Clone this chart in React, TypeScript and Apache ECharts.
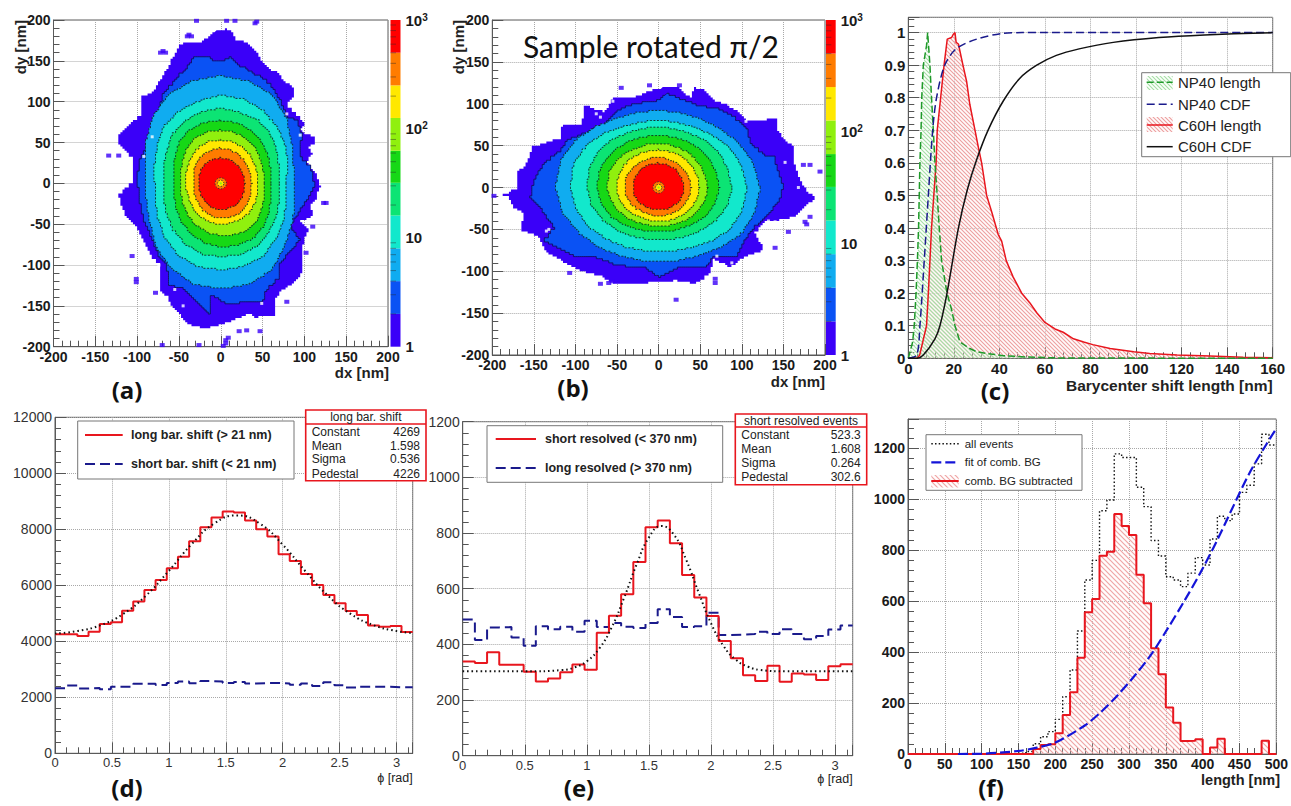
import React, { useEffect, useRef } from "react";
import * as echarts from "echarts";

// ---------- colour scale of the 2D maps (outer to inner) ----------
const levelEdges = [1, 2, 4, 8, 16, 32, 63, 126, 251, 501, 1000];
const levelFills = ["#3a00f8", "#0a52f4", "#10acf0", "#12e8cc", "#0ce474", "#16d816", "#90f00e", "#ffe800", "#ff7c00", "#ff0000"];
const barMinorTicks = [2, 3, 4, 5, 6, 7, 8, 9, 20, 30, 40, 50, 60, 70, 80, 90, 200, 300, 400, 500, 600, 700, 800, 900];

// ---------- panel (a): contours, nm ----------
const aOuter = [[-5,187],[5,189],[13,187],[17,175],[25,176],[33,169],[45,159],[47,150],[51,147],[59,138],[68,136],[75,126],[87,116],[87,106],[81,97],[81,93],[91,83],[101,71],[95,66],[101,61],[111,57],[112,48],[105,44],[109,36],[103,25],[113,12],[119,-4],[113,-21],[107,-27],[111,-41],[95,-47],[105,-58],[100,-70],[97,-80],[97,-111],[87,-123],[75,-130],[65,-143],[65,-162],[43,-164],[35,-160],[15,-168],[5,-172],[-17,-178],[-33,-174],[-43,-168],[-50,-158],[-59,-149],[-63,-138],[-73,-131],[-73,-98],[-82,-90],[-92,-70],[-100,-53],[-112,-42],[-118,-29],[-122,-13],[-104,4],[-106,32],[-124,51],[-122,61],[-108,73],[-96,85],[-96,106],[-82,112],[-76,122],[-70,130],[-61,147],[-49,171],[-25,173]];
const aBlue = [[0,149],[11,155],[17,147],[33,138],[51,128],[61,118],[71,102],[79,81],[91,77],[97,61],[95,32],[107,20],[113,-4],[103,-21],[93,-37],[83,-53],[95,-70],[81,-86],[69,-102],[71,-115],[55,-131],[51,-145],[7,-147],[-5,-139],[-13,-137],[-13,-160],[-29,-143],[-47,-127],[-61,-125],[-65,-98],[-73,-90],[-84,-62],[-92,-45],[-96,-25],[-100,8],[-96,32],[-86,53],[-76,81],[-69,110],[-49,134],[-43,138],[-33,155],[-17,155],[-9,151]];
const aLightBlue = [88,90,98,112,125,130,132,130,125,115,103,93,90,92,98,110,120,128,129,128,122,108,98,92];
const aTeal = [78,83,90,97,103,107,108,104,101,97,88,82,79,81,87,95,102,106,106,105,102,94,87,81];
const aGreenTeal = [70,72,78,85,90,90,92,90,87,83,75,71,69,71,75,81,86,90,90,90,88,82,77,73];
const aGreen = [60,62,66,71,75,77,77,77,75,70,63,59,57,58,62,67,72,76,78,78,77,73,67,62];
const aLime = [52,53,56,60,63,65,65,65,63,58,53,50,49,50,52,56,60,63,64,65,65,62,57,54];
const aYellow = [44,45,47,50,52,53,53,53,51,48,45,43,42,42,43,46,48,50,50,50,50,49,47,45];
const aOrange = [37,37,38,40,42,43,43,42,41,39,36,34,33,34,35,37,40,42,43,43,43,41,39,38];
const aRed = [29,29,29.5,30,31,31,31,31,30,29,28,27,27,27,28,29,31,32,32,32,32,31,30,29];
const aSpecks = [[-134,34],[-122,34],[-69,162],[-66,160],[-72,160],[-38,182],[-35,180],[-40,180],[-29,199],[7,199],[17,199],[43,198],[41,196],[123,-24],[126,-24],[110,-53],[102,-85],[-106,-89],[-101,-117],[-101,-121],[-78,-134],[79,-145],[22,-181],[31,-180],[47,-181],[6,-192],[6,-196],[3,-199],[-70,-198],[-26,-198],[9,-189]];
const aHoles = [[79,85],[95,59],[49,-147],[-74,-100],[-82,57],[-92,33],[-55,-130],[-45,-150]];

// ---------- panel (b): contours, nm ----------
const bOuter = [[6,119],[24,119],[38,106],[42,119],[52,118],[66,104],[82,98],[96,90],[106,80],[144,82],[142,70],[150,57],[162,49],[162,29],[170,9],[178,-5],[190,-13],[176,-23],[164,-35],[144,-39],[130,-39],[116,-55],[126,-75],[104,-83],[88,-95],[66,-85],[62,-103],[46,-115],[22,-111],[2,-113],[-34,-115],[-52,-115],[-70,-105],[-94,-99],[-116,-87],[-134,-77],[-146,-57],[-166,-51],[-162,-31],[-174,-23],[-180,-11],[-190,-9],[-170,-1],[-171,19],[-160,27],[-152,49],[-118,59],[-116,74],[-92,76],[-90,98],[-66,90],[-54,108],[-30,108],[-10,116]];
const bBlue = [[10,112],[30,104],[46,98],[70,94],[88,86],[106,70],[110,53],[126,39],[140,37],[142,21],[150,1],[146,-15],[134,-31],[116,-47],[104,-63],[94,-83],[66,-83],[58,-95],[26,-95],[2,-107],[-18,-95],[-50,-93],[-74,-83],[-98,-83],[-114,-75],[-138,-63],[-126,-47],[-142,-23],[-154,-11],[-150,9],[-138,29],[-118,45],[-110,57],[-92,64],[-66,76],[-50,92],[-30,100],[-2,104]];
const bLightBlue = [122,118,110,102,96,93,92,93,96,104,114,122,124,120,110,102,94,90,89,90,94,102,113,119];
const bTeal = [106,103,98,90,84,81,80,81,84,92,100,106,106,103,97,88,82,78,77,78,82,90,99,104];
const bGreenTeal = [88,86,84,80,75,73,72,73,75,80,84,86,86,84,78,72,67,64,63,64,67,72,79,85];
const bGreen = [73,72,70,68,65,63,62,63,65,68,71,74,74,72,68,62,57,54,53,54,56,60,66,70];
const bLime = [59,58,57,56,54,53,52,53,54,57,60,62,62,60,57,53,49,47,47,47,49,52,55,57];
const bYellow = [49,49,48,47,46,45,45,45,46,48,49,50,50,50,48,45,42,41,41,41,42,44,46,48];
const bOrange = [39,39,38,37,36,36,36,36,36,38,39,41,41,41,39,37,35,34,34,34,35,36,37,38];
const bRed = [30,30,30,30,29,29,29,29,29,30,30,31,31,31,30,29,28,27,27,27,28,28,29,30];
const bSpecks = [[-45,119],[-11,122],[25,122],[182,27],[194,19],[174,27],[176,-41],[182,-35],[178,-44],[156,-53],[140,-72],[21,-134],[-107,-102],[-70,-115],[-56,-112],[-60,-114],[-198,-10],[68,-109],[68,-114]];
const bHoles = [[-75,88],[-70,84],[-55,103],[105,79],[152,30],[168,0],[-135,-52],[-132,-50],[70,-82],[88,-90],[132,-40],[140,-41]];
const centerRing = [7, 7, 7, 7, 7, 7, 7, 7, 7, 7, 7, 7];
const centerYellow = [4, 4, 4, 4, 4, 4, 4, 4];
const centerCore = [1.5, 1.5, 1.5, 1.5, 1.5, 1.5];

// ---------- panel (c) ----------
const c60hLength = [[0,0],[4,0],[5,0.01],[6,0.04],[7,0.07],[8,0.1],[8.8,0.2],[10.2,0.4],[12.2,0.6],[12.7,0.7],[14.2,0.8],[15.7,0.9],[17.1,0.98],[19,0.985],[19.8,0.995],[20.5,1],[21,0.97],[22,0.965],[24,0.9],[25.6,0.85],[27,0.78],[29.3,0.7],[30.7,0.65],[32.2,0.6],[34.4,0.5],[36.6,0.45],[39.5,0.38],[41,0.36],[43,0.3],[46,0.25],[49.8,0.2],[53.4,0.17],[56.4,0.14],[60,0.11],[64.4,0.09],[68,0.08],[72.5,0.06],[77,0.05],[81,0.042],[88.6,0.03],[99,0.02],[106,0.015],[118,0.01],[132.5,0.007],[147,0.003],[160,0.002]];
const np40Length = [[0,0],[1.9,0.05],[2.6,0.1],[3.4,0.2],[4,0.3],[4.5,0.4],[4.8,0.5],[5.1,0.6],[5.6,0.7],[5.9,0.8],[6.6,0.9],[7.3,0.93],[8,0.96],[8.5,1],[9,0.95],[9.5,0.9],[10.2,0.8],[11,0.7],[11.7,0.6],[12.7,0.5],[13.6,0.4],[14.6,0.3],[17,0.2],[19,0.15],[20.5,0.1],[22.7,0.05],[27,0.03],[30,0.02],[34.4,0.015],[41.7,0.008],[52,0.004],[66,0.001],[160,0]];
const np40Cdf = [[0,0],[3.7,0.01],[5.1,0.1],[7,0.3],[8.8,0.5],[10.7,0.7],[12.4,0.8],[16,0.9],[21,0.95],[30,0.98],[41.7,0.998],[50,1],[160,1]];
const c60hCdf = [[0,0],[3.7,0],[6.6,0.01],[11.7,0.06],[13.9,0.1],[17,0.2],[22,0.4],[26,0.52],[30,0.61],[35,0.7],[41.7,0.79],[49,0.86],[56.4,0.9],[65,0.93],[75,0.95],[90,0.97],[110,0.985],[130,0.993],[160,1]];

// ---------- panel (d) ----------
const phiBinWidth = 0.09817;
const longBarShift = [4250,4250,4190,4345,4620,4680,5095,5420,5830,6190,6610,7020,7570,8070,8420,8640,8600,8310,8000,7740,7110,6870,6400,6010,5650,5360,5080,4940,4560,4520,4550,4330];
const shortBarShift = [2320,2420,2310,2330,2290,2380,2380,2480,2480,2440,2510,2560,2500,2580,2560,2510,2550,2490,2510,2510,2490,2450,2490,2400,2540,2430,2350,2380,2380,2380,2360,2360];
const fitD = [[0,4276],[0.2,4369],[0.4,4576],[0.6,4981],[0.8,5635],[1,6518],[1.2,7468],[1.4,8213],[1.6,8495],[1.8,8201],[2,7450],[2.2,6498],[2.4,5618],[2.6,4970],[2.8,4572],[3,4366],[3.14,4294]];

// ---------- panel (e) ----------
const shortResolved = [338,333,372,327,327,302,267,277,300,328,309,442,503,580,696,821,845,763,649,568,502,412,350,289,268,323,266,295,292,272,321,329];
const longResolved = [489,416,461,462,425,395,465,454,463,445,485,462,477,463,459,477,526,498,462,465,514,434,435,437,445,437,454,437,418,430,453,468];
const fitE = [[0,303],[0.5,303],[0.8,307.5],[0.9,317],[1,339.5],[1.1,385],[1.2,461],[1.3,567],[1.4,686],[1.5,784],[1.6,825],[1.7,795],[1.8,704],[1.9,587],[2,476],[2.1,395],[2.2,345],[2.3,319.5],[2.4,308],[2.6,303],[3.14,303]];

// ---------- panel (f) ----------
const lengthBinWidth = 10;
const bgSubtracted = [0,0,0,0,0,0,0,0,0,0,0,0,0,0,0,0,0,20,35,38,81,153,242,378,556,608,778,794,942,895,860,704,592,415,313,183,123,51,52,58,0,26,60,0,0,0,0,0,52,0];
const allEvents = [0,0,0,0,0,0,0,0,0,0,0,0,0,0,0,3,10,40,68,88,136,225,330,483,683,760,955,997,1178,1164,1164,1047,971,838,777,696,683,657,710,771,742,844,933,916,942,1027,1055,1139,1255,1213];
const fitF = [[68,0],[100,1],[150,12],[175,25],[200,45],[240,112],[262,165],[285,232],[307,305],[330,390],[352,490],[375,600],[397,712],[419,835],[442,975],[464,1105],[487,1218],[498,1268]];

const SANS = "'Liberation Sans', Arial, sans-serif";
const TAG = "'Open Sans', sans-serif";
const FRAME = "#5a5a5a";
const RED = "#e8161e";
const NAVY = "#1a1a8c";
const GREEN = "#1f9a2a";
const BLACK = "#111";

const toPolar = (radii: number[]) =>
  radii.map((r, i) => {
    const a = (i / radii.length) * 2 * Math.PI;
    return [r * Math.cos(a), r * Math.sin(a)];
  });

// Draw an outline on the map's bin raster, so that its edge is made of cell steps.
function onBins(poly: number[][], cell: number) {
  const out: number[][] = [];
  const snap = (v: number) => Math.round(v / cell) * cell;
  poly.forEach((p, i) => {
    const q = poly[(i + 1) % poly.length];
    const n = Math.max(1, Math.ceil(Math.hypot(q[0] - p[0], q[1] - p[1]) / cell));
    for (let k = 0; k < n; k++) {
      const x = snap(p[0] + ((q[0] - p[0]) * k) / n);
      const y = snap(p[1] + ((q[1] - p[1]) * k) / n);
      const last = out[out.length - 1];
      if (last && last[0] === x && last[1] === y) continue;
      if (last && last[0] !== x && last[1] !== y) out.push([x, last[1]]);
      out.push([x, y]);
    }
  });
  return out;
}

const steps = (vals: number[], w: number) => {
  const pts = vals.map((v, i) => [i * w, v]);
  pts.push([vals.length * w, vals[vals.length - 1]]);
  return pts;
};

function hatch(color: string, bg: string, size = 4, lw = 1.1) {
  const cv = document.createElement("canvas");
  cv.width = size;
  cv.height = size;
  const g = cv.getContext("2d")!;
  g.fillStyle = bg;
  g.fillRect(0, 0, size, size);
  g.strokeStyle = color;
  g.lineWidth = lw;
  g.beginPath();
  g.moveTo(-1, -1);
  g.lineTo(size + 1, size + 1);
  g.moveTo(-1, size - 1);
  g.lineTo(1, size + 1);
  g.moveTo(size - 1, -1);
  g.lineTo(size + 1, 1);
  g.stroke();
  return { image: cv, repeat: "repeat" };
}

function axis(o: any) {
  const bold = o.bold !== false;
  return {
    type: "value",
    gridIndex: o.grid,
    min: o.min,
    max: o.max,
    interval: o.interval,
    position: o.position,
    axisLine: { show: true, onZero: false, lineStyle: { color: FRAME, width: 1 } },
    axisTick: { show: true, inside: true, length: o.tick || 11, lineStyle: { color: "#555" } },
    minorTick: { show: true, splitNumber: o.minor || 5, length: o.minorLen || 6, lineStyle: { color: "#555" } },
    splitLine: { show: true, lineStyle: { color: "#a8a8a8", type: [1, 1], width: 1 } },
    axisLabel: {
      show: true,
      margin: o.margin ?? 3,
      color: bold ? "#1a1a1a" : "#333",
      fontFamily: SANS,
      fontWeight: bold ? "bold" : "normal",
      fontSize: o.size || 14,
      showMinLabel: true,
      showMaxLabel: o.showMax !== false,
      hideOverlap: false,
      formatter: o.formatter || ((v: number) => String(v)),
    },
  };
}

function contourSeries(xi: number, polys: any[]) {
  return {
    type: "custom",
    xAxisIndex: xi,
    yAxisIndex: xi,
    clip: false,
    z: 3,
    silent: true,
    data: polys.map((_, i) => [0, 0, i]),
    renderItem: (p: any, api: any) => {
      const c = polys[p.dataIndex];
      return {
        type: "polygon",
        shape: { points: c.pts.map((q: number[]) => api.coord(q)) },
        style: { fill: c.fill, stroke: c.stroke, lineWidth: c.stroke === "none" ? 0 : 0.9, lineDash: c.dash },
      };
    },
  };
}

function colorbarSeries(xi: number) {
  return {
    type: "custom",
    xAxisIndex: xi,
    yAxisIndex: xi,
    clip: false,
    silent: true,
    z: 3,
    data: levelFills.map((_, i) => [0, levelEdges[i]]),
    renderItem: (p: any, api: any) => {
      const a = api.coord([0, levelEdges[p.dataIndex]]);
      const b = api.coord([1, levelEdges[p.dataIndex + 1]]);
      return {
        type: "rect",
        shape: { x: a[0], y: b[1], width: b[0] - a[0], height: a[1] - b[1] },
        style: { fill: levelFills[p.dataIndex] },
      };
    },
  };
}

function colorbarTicks(xi: number) {
  return {
    type: "custom",
    xAxisIndex: xi,
    yAxisIndex: xi,
    clip: false,
    silent: true,
    z: 4,
    data: barMinorTicks.map((v) => [0, v]),
    renderItem: (p: any, api: any) => {
      const v = barMinorTicks[p.dataIndex];
      const a = api.coord([0, v]);
      const b = api.coord([0.55, v]);
      return {
        type: "line",
        shape: { x1: a[0], y1: a[1], x2: b[0], y2: b[1] },
        style: { stroke: "rgba(40,40,40,0.55)", lineWidth: 0.8 },
      };
    },
  };
}

function specks(xi: number, data: number[][], color: string, size: number[]) {
  return {
    type: "scatter",
    xAxisIndex: xi,
    yAxisIndex: xi,
    symbol: "rect",
    symbolSize: size,
    silent: true,
    z: 4,
    itemStyle: { color },
    data,
  };
}

function polys(outer: number[][], blue: number[][], r: number[][]) {
  const out: any[] = [
    { pts: onBins(outer, 2.5), fill: levelFills[0], stroke: "none" },
    { pts: onBins(blue, 2.5), fill: levelFills[1], stroke: "#101060" },
  ];
  r.forEach((radii, i) => {
    out.push({
      pts: onBins(toPolar(radii), 2),
      fill: levelFills[i + 2],
      stroke: "#0c2a20",
      dash: [2, 1.6],
    });
  });
  out.push({ pts: toPolar(centerRing), fill: levelFills[8], stroke: "#333", dash: [1.5, 1.5] });
  out.push({ pts: toPolar(centerYellow), fill: levelFills[7], stroke: "#333", dash: [1.5, 1.5] });
  out.push({ pts: toPolar(centerCore), fill: levelFills[6], stroke: "none" });
  return out;
}

function lineS(xi: number, data: number[][], o: any) {
  return {
    type: "line",
    xAxisIndex: xi,
    yAxisIndex: xi,
    data,
    showSymbol: false,
    symbol: "none",
    silent: true,
    clip: true,
    z: o.z || 3,
    step: o.step,
    smooth: o.smooth,
    areaStyle: o.area ? { color: o.area, opacity: 1 } : undefined,
    lineStyle: { color: o.color, width: o.width ?? 1.5, type: o.dash || "solid" },
  };
}

const T = (text: string, x: number, y: number, o: any = {}) => ({
  type: "text",
  x,
  y,
  z: o.z || 120,
  rotation: o.rotation || 0,
  silent: true,
  style: {
    text,
    fontFamily: o.family || SANS,
    fontSize: o.size || 14,
    fontWeight: o.weight || "normal",
    fill: o.color || "#222",
    textAlign: o.align || "left",
    textVerticalAlign: "middle",
  },
});
const L = (x1: number, y1: number, x2: number, o: any) => ({
  type: "line",
  z: 120,
  silent: true,
  shape: { x1, y1, x2, y2: y1 },
  style: { stroke: o.color, lineWidth: o.width ?? 1.5, lineDash: o.dash },
});
const R = (x: number, y: number, w: number, h: number, o: any) => ({
  type: "rect",
  z: o.z || 110,
  silent: true,
  shape: { x, y, width: w, height: h },
  style: { fill: o.fill ?? "#fff", stroke: o.stroke, lineWidth: o.width ?? 1 },
});

function statBox(x: number, y: number, w: number, h: number, div: number, title: string, rows: string[][], ys: number[]) {
  const out: any[] = [
    R(x, y, w, h, { stroke: RED, width: 1.6 }),
    { type: "line", z: 115, silent: true, shape: { x1: x, y1: div, x2: x + w, y2: div }, style: { stroke: RED, lineWidth: 1.6 } },
    T(title, x + w / 2, (y + div) / 2, { size: 12, align: "center" }),
  ];
  rows.forEach((r, i) => {
    out.push(T(r[0], x + 6, ys[i], { size: 12 }));
    out.push(T(r[1], x + w - 6, ys[i], { size: 12, align: "right" }));
  });
  return out;
}

const logLabel = (v: number) => {
  const e = Math.round(Math.log10(v));
  if (e === 0) return "1";
  if (e === 1) return "10";
  return `{b|10}{s|${e}}`;
};

function barAxes(grid: number) {
  return {
    x: { type: "value", gridIndex: grid, min: 0, max: 1, show: false },
    y: {
      type: "log",
      gridIndex: grid,
      min: 1,
      max: 1000,
      logBase: 10,
      position: "right",
      axisLine: { show: false, onZero: false },
      axisTick: { show: false },
      splitLine: { show: false },
      z: 6,
      axisLabel: {
        show: true,
        margin: 5,
        fontFamily: SANS,
        fontWeight: "bold",
        fontSize: 15,
        color: "#1a1a1a",
        formatter: logLabel,
        rich: {
          b: { fontFamily: SANS, fontWeight: "bold", fontSize: 15, color: "#1a1a1a" },
          s: { fontFamily: SANS, fontWeight: "bold", fontSize: 10, color: "#1a1a1a", verticalAlign: "top", padding: [0, 0, 6, 0] },
        },
      },
    },
  };
}

export default function App() {
  const ref = useRef<HTMLDivElement>(null);
  useEffect(() => {
    const chart = echarts.init(ref.current!, undefined, { renderer: "svg" });
    const redHatch = hatch("#eda0a0", "rgba(255,240,240,0.25)", 4, 1.1);
    const greenHatch = hatch("#a6dfa6", "rgba(240,255,240,0.2)", 4, 1.1);
    const redHatchF = hatch("#efa6a6", "rgba(255,240,240,0.2)", 5, 1.2);

    const aBar = barAxes(1);
    const bBar = barAxes(3);
    const fmt1 = (v: number) => (v === 0 ? "0" : String(Math.round(v * 10) / 10));
    const phiFmt = (v: number) => String(Math.round(v * 10) / 10);

    const option: any = {
      animation: false,
      backgroundColor: "#fff",
      grid: [
        { left: 53.5, top: 20, width: 334.5, height: 326.7, show: true, borderColor: FRAME, borderWidth: 1 },
        { left: 390.5, top: 20, width: 10, height: 326.7 },
        { left: 492.3, top: 20, width: 332.7, height: 335, show: true, borderColor: FRAME, borderWidth: 1 },
        { left: 826, top: 20, width: 9.7, height: 335 },
        { left: 908.3, top: 17.3, width: 364.4, height: 341, show: true, borderColor: FRAME, borderWidth: 1 },
        { left: 55, top: 417.3, width: 357.7, height: 336, show: true, borderColor: FRAME, borderWidth: 1 },
        { left: 462.7, top: 421.7, width: 390, height: 334, show: true, borderColor: FRAME, borderWidth: 1 },
        { left: 908, top: 419, width: 372, height: 335, show: true, borderColor: FRAME, borderWidth: 1 },
      ],
      xAxis: [
        axis({ grid: 0, min: -200, max: 200, interval: 50, position: "bottom" }),
        aBar.x,
        axis({ grid: 2, min: -200, max: 200, interval: 50, position: "bottom" }),
        bBar.x,
        axis({ grid: 4, min: 0, max: 160, interval: 20, position: "bottom", size: 15 }),
        axis({ grid: 5, min: 0, max: Math.PI, interval: 0.5, position: "bottom", bold: false, showMax: false, formatter: phiFmt, size: 13 }),
        axis({ grid: 6, min: 0, max: Math.PI, interval: 0.5, position: "bottom", bold: false, showMax: false, formatter: phiFmt, size: 13 }),
        axis({ grid: 7, min: 0, max: 500, interval: 50, position: "bottom" }),
      ],
      yAxis: [
        axis({ grid: 0, min: -200, max: 200, interval: 50, position: "left" }),
        aBar.y,
        axis({ grid: 2, min: -200, max: 200, interval: 50, position: "left" }),
        bBar.y,
        axis({ grid: 4, min: 0, max: 1.047, interval: 0.1, position: "left", size: 15, showMax: false, formatter: fmt1 }),
        axis({ grid: 5, min: 0, max: 12000, interval: 2000, position: "left", bold: false, size: 14, margin: 3 }),
        axis({ grid: 6, min: 0, max: 1200, interval: 200, position: "left", bold: false, size: 14, margin: 3 }),
        axis({ grid: 7, min: 0, max: 1315, interval: 200, position: "left", showMax: false, minor: 5 }),
      ],
      series: [
        contourSeries(0, polys(aOuter, aBlue, [aLightBlue, aTeal, aGreenTeal, aGreen, aLime, aYellow, aOrange, aRed])),
        specks(0, aSpecks, levelFills[0], [5, 4]),
        specks(0, aHoles, "#ffffff", [3, 3]),
        colorbarSeries(1),
        colorbarTicks(1),
        contourSeries(2, polys(bOuter, bBlue, [bLightBlue, bTeal, bGreenTeal, bGreen, bLime, bYellow, bOrange, bRed])),
        specks(2, bSpecks, levelFills[0], [5, 4]),
        specks(2, bHoles, "#ffffff", [3, 3]),
        colorbarSeries(3),
        colorbarTicks(3),
        lineS(4, c60hLength, { color: RED, area: redHatch, z: 3 }),
        lineS(4, np40Length, { color: GREEN, dash: [7, 3], area: greenHatch, z: 3 }),
        lineS(4, np40Cdf, { color: NAVY, dash: [8, 4], z: 4, smooth: 0.3 }),
        lineS(4, c60hCdf, { color: BLACK, z: 4, smooth: 0.3 }),
        lineS(5, steps(shortBarShift, phiBinWidth), { color: NAVY, step: "end", width: 2, dash: [10, 5] }),
        lineS(5, steps(longBarShift, phiBinWidth), { color: RED, step: "end", width: 2 }),
        lineS(5, fitD, { color: BLACK, smooth: true, width: 2, dash: [1.5, 3], z: 5 }),
        lineS(6, steps(longResolved, phiBinWidth), { color: NAVY, step: "end", width: 2, dash: [10, 5] }),
        lineS(6, steps(shortResolved, phiBinWidth), { color: RED, step: "end", width: 2 }),
        lineS(6, fitE, { color: BLACK, smooth: true, width: 2, dash: [1.5, 3], z: 5 }),
        lineS(7, steps(allEvents, lengthBinWidth), { color: BLACK, step: "end", width: 1.4, dash: [1.5, 2.2] }),
        lineS(7, steps(bgSubtracted, lengthBinWidth), { color: RED, step: "end", width: 2, area: redHatchF, z: 4 }),
        lineS(7, fitF, { color: "#1414d8", smooth: 0.3, width: 2.2, dash: [10, 4], z: 5 }),
      ],
      graphic: [
        // axis titles
        T("dy [nm]", 20, 20, { rotation: Math.PI / 2, align: "right", weight: "bold", size: 15 }),
        T("dx [nm]", 389, 372, { align: "right", weight: "bold", size: 15 }),
        T("dy [nm]", 458, 20, { rotation: Math.PI / 2, align: "right", weight: "bold", size: 15 }),
        T("dx [nm]", 825, 381, { align: "right", weight: "bold", size: 15 }),
        T("Barycenter shift length [nm]", 1272.7, 385, { align: "right", weight: "bold", size: 15.5 }),
        T("\u03d5 [rad]", 412.7, 777.7, { align: "right", size: 12.5 }),
        T("\u03d5 [rad]", 852.7, 779, { align: "right", size: 12.5 }),
        T("length [nm]", 1280, 780, { align: "right", weight: "bold", size: 14.5 }),
        T("Sample rotated \u03c0/2", 523, 46, { family: "Lato, 'Open Sans', sans-serif", size: 30, color: "#111" }),
        // panel tags
        T("(a)", 127, 389, { family: TAG, weight: "bold", size: 24, align: "center", color: "#111" }),
        T("(b)", 573, 387, { family: TAG, weight: "bold", size: 24, align: "center", color: "#111" }),
        T("(c)", 995, 390, { family: TAG, weight: "bold", size: 24, align: "center", color: "#111" }),
        T("(d)", 127, 787, { family: TAG, weight: "bold", size: 24, align: "center", color: "#111" }),
        T("(e)", 579, 787, { family: TAG, weight: "bold", size: 24, align: "center", color: "#111" }),
        T("(f)", 991, 787, { family: TAG, weight: "bold", size: 24, align: "center", color: "#111" }),
        // legend (c)
        R(1141.7, 72.7, 149, 84, { stroke: "#777", width: 1 }),
        R(1146.7, 76, 26, 14, { fill: greenHatch, stroke: "none", z: 115 }),
        L(1146.7, 82.3, 1172.7, { color: GREEN, dash: [7, 3] }),
        T("NP40 length", 1178, 82.3, { size: 15 }),
        L(1146.7, 104.3, 1172.7, { color: NAVY, dash: [8, 4] }),
        T("NP40 CDF", 1178, 104.3, { size: 15 }),
        R(1146.7, 117, 26, 15, { fill: redHatch, stroke: "none", z: 115 }),
        L(1146.7, 125, 1172.7, { color: RED }),
        T("C60H length", 1178, 125, { size: 15 }),
        L(1146.7, 146.7, 1172.7, { color: BLACK }),
        T("C60H CDF", 1178, 146.7, { size: 15 }),
        // legend (d)
        R(77.7, 421, 216.3, 58, { stroke: "#777", width: 1 }),
        L(85, 435, 122.7, { color: RED, width: 2 }),
        T("long bar. shift (> 21 nm)", 131, 435, { size: 12.5, weight: "bold" }),
        L(85, 464, 122.7, { color: NAVY, width: 2, dash: [10, 5] }),
        T("short bar. shift (< 21 nm)", 131, 464, { size: 12.5, weight: "bold" }),
        ...statBox(305.7, 410, 120.3, 70.7, 424, "long bar. shift",
          [["Constant", "4269"], ["Mean", "1.598"], ["Sigma", "0.536"], ["Pedestal", "4226"]], [431.7, 446, 459.3, 474]),
        // legend (e)
        R(487, 425.7, 235.7, 56.6, { stroke: "#777", width: 1 }),
        L(495.7, 439, 536, { color: RED, width: 2 }),
        T("short resolved (< 370 nm)", 545, 439, { size: 12.5, weight: "bold" }),
        L(495.7, 468, 536, { color: NAVY, width: 2, dash: [10, 5] }),
        T("long resolved (> 370 nm)", 545, 468, { size: 12.5, weight: "bold" }),
        ...statBox(735.3, 414, 131.4, 70.7, 427, "short resolved events",
          [["Constant", "523.3"], ["Mean", "1.608"], ["Sigma", "0.264"], ["Pedestal", "302.6"]], [435, 449.3, 462.7, 477.3]),
        // legend (f)
        R(926, 434.7, 156, 55.6, { stroke: "#777", width: 1 }),
        L(931.3, 443.7, 958.7, { color: BLACK, width: 1.4, dash: [1.5, 2.2] }),
        T("all events", 964.7, 443.7, { size: 11.5 }),
        L(931.3, 462.3, 958.7, { color: "#1414d8", width: 2.2, dash: [10, 4] }),
        T("fit of comb. BG", 964.7, 462.3, { size: 11.5 }),
        R(931.3, 475, 27.4, 12.5, { fill: redHatchF, stroke: "none", z: 115 }),
        L(931.3, 481, 958.7, { color: RED, width: 2 }),
        T("comb. BG subtracted", 964.7, 481, { size: 11.5 }),
      ],
    };
    chart.setOption(option);
    return () => chart.dispose();
  }, []);
  return <div ref={ref} style={{ position: "absolute", left: 0, top: 0, width: 1291, height: 806 }} />;
}
